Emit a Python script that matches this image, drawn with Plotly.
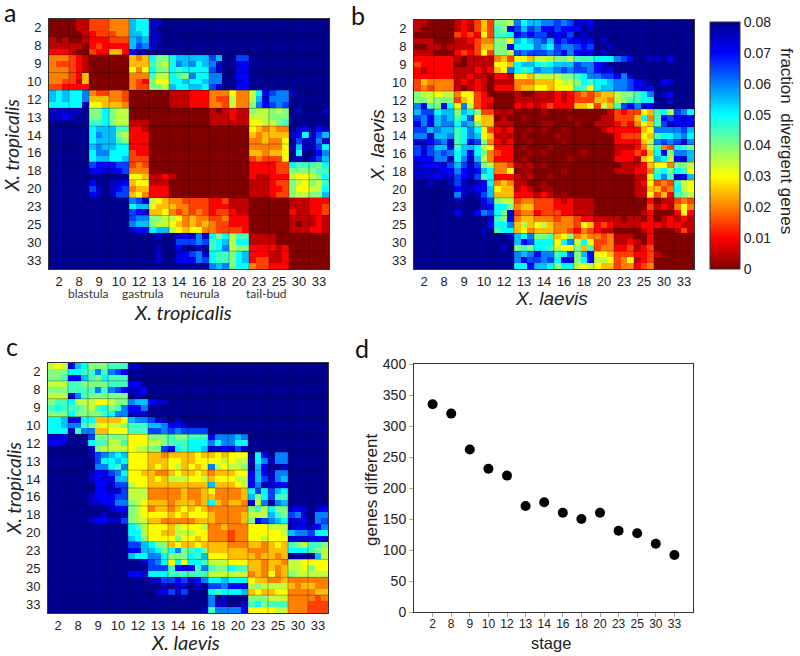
import plotly.graph_objects as go

W, H = 800, 656

stages = ["2", "8", "9", "10", "12", "13", "14", "16", "18", "20", "23", "25", "30", "33"]
genes_different = [335, 320, 262, 231, 220, 171, 177, 160, 150, 160, 131, 127, 110, 92]

# Each row is 42 cells (3 per stage), one code per cell, code k means k * 0.005,
# "-" is 0.0025. 0..9 a..g, so g is 0.08. Rows that stop early carry on with g.
trop_trop_rows = [
    "000 011 333 444 baa ffg",
    "000 011 333 444 baa fgg",
    "000 001 233 344 bba ffg",
    "101 001 222 333 bcb ffg",
    "111 110 232 222 bdc fgg",
    "222 100 322 552 egg",
    "444 321 000 000 545 a88 abb bbb dbg gdd",
    "433 321 000 000 555 987 acb cab cfg gfe",
    "444 321 000 000 646 a88 a9a aaa dfg gee",
    "444 325 000 000 444 977 a98 caa ccg gee",
    "443 315 000 000 432 866 aab aab ccg gfe",
    "332 222 000 000 433 887 baa bba dfg gee",
    "bab aac 433 443 000 000 111 222 444 644 7ae dcc fgg",
    "bab aac 555 443 000 000 111 222 433 744 7bf ccc ggg",
    "aaa aaf 665 554 000 000 111 222 443 744 8ce dcd ggg",
    "fff ffg 88a 877 000 000 000 000 101 211 877 878 gfg ggf",
    "ffe fgg 88a 877 000 000 000 000 111 211 777 888 ggg ggg",
    "ggg ggg 99a 877 111 000 000 000 111 111 667 789 ggg ggg",
    "ggg ggg abb b99 221 000 000 000 000 000 654 544 gfe gef",
    "ggg ggg acb b87 222 000 000 000 000 000 545 555 fea fdb",
    "ggg ggg abb b98 222 000 000 000 000 000 445 446 gdf fcf",
    "ggg ggg bcb baa 222 000 000 000 000 000 444 446 fbf fda",
    "ggg ggg acc aaa 322 000 000 000 000 000 554 556 gag gec",
    "ggg ggg abb aab 333 000 000 000 000 000 343 336 gfg fdb",
    "ggg ggg dee edd 343 000 000 000 000 000 222 233 a99 98a",
    "ggg ggg eef fed 444 000 000 000 000 000 222 233 888 899",
    "ggg ggg ggg ggg 665 112 100 000 000 000 211 222 766 78a",
    "ggg ggg egg ffe 566 111 000 000 000 000 111 233 876 879",
    "ggg ggg dfg fed 455 222 000 000 000 000 111 223 866 77a",
    "ggg ggg efg fdd 564 222 000 000 000 000 111 233 877 88b",
    "ggg ggg ggg ggg cdf 765 443 333 223 111 000 000 111 222",
    "ggg ggg ggg ggg abb 655 544 333 222 111 000 000 111 223",
    "ggg ggg ggg ggg def 556 434 343 233 211 000 000 211 223",
    "ggg ggg ggg ggg dcc 887 764 544 334 222 000 000 111 121",
    "ggg ggg ggg ggg cbb 877 654 545 433 222 000 000 101 121",
    "ggg ggg ggg ggg fee abb 765 664 433 332 000 000 111 221",
    "ggg ggg ggg ggg ggg gfg gfe fcf a8a 799 111 100 000 000",
    "ggg ggg ggg ggg ggg ggg gdd dcd 9ab 7aa 111 100 000 000",
    "ggg ggg ggg ggg ggg gfg geg gfg 9ac 788 222 212 000 000",
    "ggg ggg ggg ggg ggg gfg gfe dcf a99 8ab 222 112 000 000",
    "ggg ggg ggg ggg ggg gfg gee ecd a99 8ab 233 112 000 000",
    "ggg ggg ggg ggg ggg ggg ggg ggg cbc 8aa 433 222 000 000",
]

laev_laev_rows = [
    "110 000 121 353 887 cab bcc dcd ffe",
    "100 000 121 353 98e dbd cee dee egf",
    "000 000 323 263 99a ede ddf efd gfg",
    "111 000 112 344 886 bab cdb ede efe gfg",
    "001 101 111 355 88e aaa cba dcc ded ggf",
    "111 000 232 363 887 dcd ddc dec efe gfg",
    "222 222 101 111 453 665 777 887 999 aaa cde ggf fge",
    "322 222 001 111 665 abb a9a bbb dcc efg",
    "212 222 111 212 56c a9a cbb cdc ddc efe",
    "222 222 112 110 221 665 777 788 9ac cdd ecf ggg",
    "354 444 121 210 111 444 555 677 8a9 aab ccd efg gef",
    "343 444 101 210 222 455 665 666 996 abb ccd efe ggg",
    "877 677 466 320 000 100 111 212 343 455 788 9ac gfe ggg",
    "887 888 356 322 000 111 111 212 333 554 789 9aa ggf ggg",
    "ce9 8ea 6c7 321 000 212 123 222 556 375 9de cfe ggg ggg",
    "bdd abb 8ba 833 1-1 000 0-0 000 000 001 323 365 9a7 dca",
    "dce bcb 9ad 655 010 0-0 000 00- 000 011 333 5a4 9ed efe",
    "ece bcc acb 855 111 000 0-- 000 -00 111 232 465 9df eee",
    "ddb cbb 9ac a63 212 00- 0-0 0-0 000 012 222 256 ccc cdb",
    "ccf bbc 9ac b65 111 0-0 000 -00 000 000 233 365 9aa bca",
    "ffe dcf 9ae d84 212 00- 000 0-0 000 000 222 257 cdc dfc",
    "ded bbe 9bb a76 222 0-0 00- 000 000 000 111 247 943 a98",
    "dfd cdc abe a84 322 00- 0-0 000 0-0 000 122 325 ae8 ccb",
    "eee ccf acf b74 222 0-0 000 00- 000 000 222 156 ba7 efb",
    "fee efd bdf d87 443 1-1 0-0 000 000 000 011 125 664 887",
    "fff fee cef eba 446 0-- 000 0-0 000 000 111 224 9a8 a96",
    "fff eff def d9a 222 1-1 00- 000 000 000 000 116 ac9 feb",
    "ggf ggf dfg fea 454 110 0-0 000 000 000 000 126 343 976",
    "ggg ggg eff eeb 655 121 0-- 000 000 000 000 115 534 a76",
    "ggg ggg cfg fdb 555 222 121 0-0 000 000 000 116 352 987",
    "ggg ggg fgg ged 877 344 333 212 111 000 000 002 011 343",
    "ggg ggg ggg gfe aa8 455 333 222 111 000 000 003 121 464",
    "ggg ggg egg ecd a8f 344 233 322 111 000 000 012 000 262",
    "ggg ggg ggg ggf 98e 455 444 344 322 111 101 102 012 121",
    "ggg ggg ggg gge aac 575 675 444 365 232 111 122 212 211",
    "ggg ggg ggg gfg 9aa 564 555 443 243 211 000 012 000 131",
    "ggg ggg ggg ggg ggf bac 889 568 454 434 111 002 000 000",
    "ggg ggg ggg ggg ggg bed aaa 6ac 7a6 334 112 102 000 000",
    "ggg ggg ggg ggg gfg 898 aa9 766 859 344 223 123 000 000",
    "ggg ggg ggg ggg ggg cbc ecc 9ad 8be 665 333 223 100 000",
    "ggg ggg ggg ggg ggg ced dcd aef 8ae 776 346 123 000 000",
    "ggg ggg ggg ggg ggg aae bba 8aa 767 655 344 234 000 000",
]

trop_laev_rows = [
    "767 eba 888 999 ffg",
    "888 aa9 9c9 cde ggg",
    "889 eeb 98a 999 ggg",
    "777 998 888 999 eeg",
    "888 999 9c9 cde ffe",
    "777 fc9 888 888 gfg",
    "899 a77 766 788 cbb eff",
    "9a9 998 79a 89c eec ggg",
    "888 a88 889 acc fff ggg",
    "aab fea a55 556 bcc dff gfg",
    "aab cc9 876 778 999 bbc eef ggg",
    "aaa f9c c55 666 999 ddc dcd ddd",
    "ffe ggg d88 888 666 888 988 999 ecc cbc",
    "eef ggg a99 779 666 778 999 aaa cac caa",
    "ggg ggg f87 777 677 88d ea9 aab ffe fdf",
    "ggg ggg fdc bab 666 554 555 565 565 666 gae gcc",
    "ggg ggg gda aba 666 555 665 566 667 677 fac fcc",
    "ggg ggg gcc a9c 666 565 675 656 c76 778 gbe ggf",
    "ggg ggg fee dca 665 544 565 565 455 566 ebe fcc",
    "ggg ggg fef ebb 666 565 777 667 566 677 ebd fcb",
    "ggg ggg gee fdd 766 555 555 555 b55 567 ecf fee",
    "ggg ggg gee ffd 777 444 445 445 644 445 ada dba",
    "ggg ggg fee edd 777 444 445 445 544 445 b8a d99",
    "ggg ggg ffe ecc 876 555 455 545 a54 554 f7c gcb",
    "ggg ggg ggg fee 876 455 456 565 444 444 897 a88 fef gfe",
    "ggg ggg ggf ggf 876 666 565 666 544 445 777 b98 dcf gcc",
    "ggg ggg fee ffd 877 554 444 455 544 445 8ed cba ffe gcd",
    "ggg ggg ggg ggg a97 666 576 667 445 444 666 777 fef fec",
    "ggg ggg ggg ggg aa7 665 577 766 444 344 666 667 bcc daa",
    "ggg ggg ggg ggg ba8 666 686 656 444 344 667 666 fff eef",
    "ggg ggg ggg ggg ddb a88 565 565 555 444 554 565 987 998",
    "ggg ggg ggg ggg eeb ba8 ac8 9a8 555 555 444 555 aaa 987",
    "ggg ggg ggg ggg baa cca 888 a9b 666 555 545 545 gfg gb7",
    "ggg ggg ggg ggg ggf dca 6a6 aa9 777 666 554 554 776 666",
    "ggg ggg ggg ggg ggg ddd 9ee e9c 988 a99 554 545 776 866",
    "ggg ggg ggg ggg eef aaa 999 999 777 777 454 645 877 777",
    "ggg ggg ggg ggg ggg ffd ded fec aab aaa 655 445 444 444",
    "ggg ggg ggg ggg ggg ggf gff gfg ddc eee 787 777 545 544",
    "ggg ggg ggg ggg ggg gfe dfd ggg a9a aab 565 566 444 455",
    "ggg ggg ggg ggg ggg ggg ggg ggg cgf ggg 888 777 444 434",
    "ggg ggg ggg ggg ggg ggg ggg ggg cff ggf 9a8 999 444 333",
    "ggg ggg ggg ggg ggg ggg ggg ggf 9cc cce 666 677 444 333",
]


def parse_rows(rows):
    codes = "0123456789abcdefg"
    out = []
    for row in rows:
        row = row.replace(" ", "").ljust(42, "g")[:42]
        out.append([0.0025 if c == "-" else codes.index(c) * 0.005 for c in row])
    return out


# MATLAB jet, flipped
jet_flipped = [
    [0.0, "rgb(128,0,0)"],
    [0.125, "rgb(255,0,0)"],
    [0.375, "rgb(255,255,0)"],
    [0.625, "rgb(0,255,255)"],
    [0.875, "rgb(0,0,255)"],
    [1.0, "rgb(0,0,143)"],
]


def dom_x(left, right):
    return [left / W, right / W]


def dom_y(top, bottom):
    return [1 - bottom / H, 1 - top / H]


SANS = "Liberation Sans"
HUMAN = "Lato"

fig = go.Figure()

# axis suffix, rows, x axis box, y axis box
panels = [
    ("", trop_trop_rows, (49, 329), (19, 269)),
    ("2", laev_laev_rows, (414, 694), (20, 269)),
    ("3", trop_laev_rows, (48, 328), (363, 613)),
]

layout_axes = {}
shapes = []
for suffix, rows, xbox, ybox in panels:
    fig.add_trace(go.Heatmap(
        z=parse_rows(rows),
        x=list(range(42)),
        y=list(range(42)),
        coloraxis="coloraxis",
        xaxis="x" + suffix,
        yaxis="y" + suffix,
    ))
    common = dict(
        tickvals=[3 * i + 1 for i in range(14)],
        ticktext=stages,
        ticks="",
        tickfont=dict(family=SANS, size=13, color="#222"),
        showgrid=False,
        zeroline=False,
        showline=True,
        linecolor="#333",
        linewidth=1,
        mirror=True,
    )
    layout_axes["xaxis" + suffix] = dict(
        common,
        domain=dom_x(*xbox),
        range=[-0.5, 41.5],
        anchor="y" + suffix,
    )
    layout_axes["yaxis" + suffix] = dict(
        common,
        domain=dom_y(*ybox),
        range=[41.5, -0.5],
        anchor="x" + suffix,
        ticklabelstandoff=4,
    )
    # thin lines between the stages
    for i in range(1, 14):
        edge = 3 * i - 0.5
        line = dict(color="rgba(0,0,0,0.3)", width=1)
        shapes.append(dict(type="line", xref="x" + suffix, yref="y" + suffix,
                           x0=edge, x1=edge, y0=-0.5, y1=41.5, line=line))
        shapes.append(dict(type="line", xref="x" + suffix, yref="y" + suffix,
                           x0=-0.5, x1=41.5, y0=edge, y1=edge, line=line))

# panel d
stage_pos = list(range(1, 15))
fig.add_trace(go.Scatter(
    x=stage_pos,
    y=genes_different,
    mode="markers",
    marker=dict(color="black", size=10),
    xaxis="x4",
    yaxis="y4",
    showlegend=False,
))
layout_axes["xaxis4"] = dict(
    domain=dom_x(414, 693),
    range=[0, 15],
    anchor="y4",
    tickvals=stage_pos,
    ticktext=stages,
    ticks="outside",
    ticklen=4,
    tickcolor="#aaa",
    ticklabelstandoff=-3,
    tickfont=dict(family=SANS, size=12, color="#222"),
    showgrid=False,
    zeroline=False,
    showline=True,
    linecolor="#333",
    mirror=True,
)
layout_axes["yaxis4"] = dict(
    domain=dom_y(364, 612),
    range=[0, 400],
    anchor="x4",
    tickvals=list(range(0, 401, 50)),
    ticks="outside",
    ticklen=4,
    tickcolor="#aaa",
    tickfont=dict(family=SANS, size=14, color="#222"),
    showgrid=False,
    zeroline=False,
    showline=True,
    linecolor="#333",
    mirror=True,
)

annotations = []


def add_text(text, px, py, family, size, angle=0, color="#222"):
    annotations.append(dict(text=text, x=px / W, y=1 - py / H, xref="paper", yref="paper",
                            xanchor="center", yanchor="middle", textangle=angle,
                            showarrow=False, font=dict(family=family, size=size, color=color)))


add_text("a", 10, 12, HUMAN, 25, color="#111")
add_text("b", 358, 15, HUMAN, 25, color="#111")
add_text("c", 12, 346, HUMAN, 25, color="#111")
add_text("d", 362, 348, HUMAN, 25, color="#111")

for phase, px in [("blastula", 88), ("gastrula", 143), ("neurula", 200), ("tail-bud", 266)]:
    add_text(phase, px, 293, HUMAN, 12, color="#333")

add_text("<i>X. tropicalis</i>", 183, 312, HUMAN, 20)
add_text("<i>X. tropicalis</i>", 12, 146, HUMAN, 19, angle=-90)
add_text("<i>X. laevis</i>", 551, 298, SANS, 19)
add_text("<i>X. laevis</i>", 378, 146, SANS, 19, angle=-90)
add_text("<i>X. laevis</i>", 185, 642, HUMAN, 20)
add_text("<i>X. tropicalis</i>", 13, 489, HUMAN, 19, angle=-90)
add_text("stage", 551, 643, SANS, 16.5)
add_text("genes different", 371, 490, SANS, 17, angle=-90)
add_text("fraction\u00a0\u00a0divergent genes", 787, 141, SANS, 17, angle=90)

fig.update_layout(
    width=W,
    height=H,
    autosize=False,
    margin=dict(l=0, r=0, t=0, b=0, autoexpand=False),
    paper_bgcolor="white",
    plot_bgcolor="white",
    showlegend=False,
    shapes=shapes,
    annotations=annotations,
    coloraxis=dict(
        cmin=0,
        cmax=0.08,
        colorscale=jet_flipped,
        colorbar=dict(
            x=710 / W,
            xanchor="left",
            xpad=0,
            y=1 - 22 / H,
            yanchor="top",
            ypad=0,
            lenmode="pixels",
            len=247,
            thicknessmode="pixels",
            thickness=30,
            outlinewidth=1,
            outlinecolor="#333",
            tickvals=[i / 100 for i in range(9)],
            ticktext=["0", "0.01", "0.02", "0.03", "0.04", "0.05", "0.06", "0.07", "0.08"],
            ticks="",
            tickfont=dict(family=SANS, size=14, color="#222"),
        ),
    ),
    **layout_axes,
)

fig.write_html("out.html", post_script="document.body.style.margin='0';",
               config={"displayModeBar": False})
